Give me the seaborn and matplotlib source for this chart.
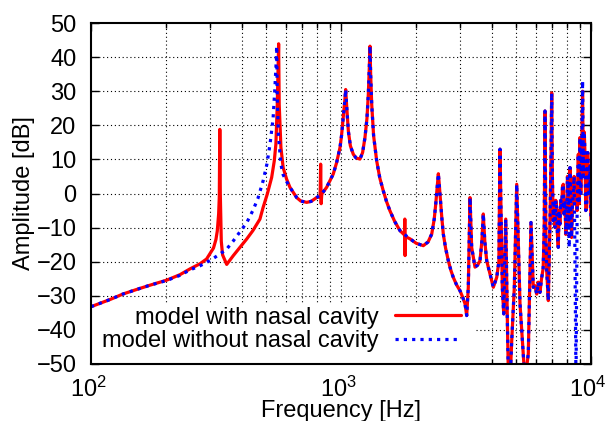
import numpy as np
import pandas as pd
import matplotlib
matplotlib.use("Agg")
import matplotlib.pyplot as plt
import matplotlib.transforms as mtransforms
import seaborn as sns
from matplotlib.patches import Rectangle
from matplotlib.ticker import LogLocator, NullFormatter

# --- data (frequency in Hz, amplitude in dB) ---
# below ~630 Hz the two models differ
low_freq_red = [100, 120, 134, 150, 172, 201, 227, 249, 273, 290, 309, 316, 320, 324, 326, 327.5, 329, 332,
                336, 349, 371, 394, 420, 444, 474, 488, 507, 528, 541, 549, 556, 563, 566, 575, 587, 606]
low_db_red = [-33.2, -31.0, -29.5, -28.3, -26.9, -25.4, -23.8, -22.1, -20.6, -19.2, -16.0, -13.5, -11.0, -6.0,
              -1.0, 18.8, 0.0, -14.0, -18.0, -20.8, -18.2, -15.8, -13.3, -10.9, -7.5, -4.1, -0.2, 4.7, 9.6,
              14.5, 26.1, 43.9, 26.1, 13.5, 7.6, 4.2]

low_freq_blue = [100, 120, 134, 150, 172, 201, 227, 249, 273, 290, 309, 330, 349, 370, 394, 420, 444, 465, 488,
                 505, 520, 535, 544, 550, 553, 556, 562, 575, 587, 606]
low_db_blue = [-33.2, -31.0, -29.5, -28.3, -26.9, -25.5, -24.0, -22.4, -21.2, -20.2, -19.0, -17.6, -16.3, -14.0,
               -11.3, -8.5, -5.0, -1.5, 3.7, 8.5, 14.4, 22.0, 31.0, 38.0, 43.2, 28.0, 17.0, 8.5, 5.5, 3.5]

# 625 Hz - 6.4 kHz: both models
mid_freq = [625, 665, 690, 729, 760, 799, 840, 876, 900, 931, 960, 991, 1005, 1021, 1035, 1044, 1055, 1070,
            1090, 1120, 1150, 1191, 1220, 1247, 1270, 1286, 1298, 1306, 1314, 1327, 1350, 1389, 1430, 1476,
            1520, 1570, 1640, 1722, 1888, 2000, 2134, 2230, 2306, 2360, 2393, 2430, 2451, 2470, 2489, 2530,
            2566, 2620, 2687, 2750, 2813, 2900, 2992, 3070, 3133, 3183, 3230, 3281, 3332, 3436, 3520, 3597,
            3660, 3708, 3760, 3826, 3945, 4067, 4196, 4280, 4325, 4418, 4476, 4560, 4628, 4671, 4740, 4819,
            4935, 5045, 5200, 5445, 5613, 5754, 5877, 5960, 6066, 6150, 6250, 6340, 6436]
mid_db = [1.8, -1.2, -2.2, -2.6, -2.3, -1.2, 0.0, 1.8, 3.5, 5.7, 9.0, 13.5, 17.0, 22.2, 27.0, 30.5, 25.0, 18.3,
          14.0, 11.5, 10.4, 10.1, 12.0, 16.4, 22.0, 29.0, 37.0, 43.2, 35.0, 26.1, 17.0, 9.6, 4.5, 0.8,
          -2.3, -5.1, -8.2, -10.9, -13.3, -14.6, -15.3, -14.2, -11.9, -7.5, -3.1, 2.5, 5.8, 3.0, -0.2, -7.0,
          -11.9, -16.0, -19.7, -22.5, -24.6, -26.8, -28.5, -30.5, -32.3, -35.8, -27.5, -1.2, -15.8, -21.6, -21.0, -19.7,
          -14.0, -6.0, -14.0, -19.7, -23.6, -27.5, -24.6, -20.0, 13.0, -27.5, -35.3, -7.5, -37.2, -53.0, -56.0, -43.1,
          -27.5, 2.7, -32.3, -55.0, -47.0, -8.5, -27.5, -27.0, -29.5, -26.0, -29.0, -25.0, -22.0]

# narrow features that only the nasal-cavity model has
spike_freq_red = [825, 829, 833, 837, 1796, 1800, 1804, 1808]
spike_db_red = [-1.0, 8.6, -3.0, -0.6, -12.2, -7.5, -18.2, -12.6]

# above 6.4 kHz
high_freq = [6500, 6546, 6600, 6650, 6749, 6800, 6855, 6910, 6963, 7010, 7066, 7120, 7178, 7230, 7290,
             7340, 7397, 7450, 7510, 7570, 7634, 7690, 7746, 7800, 7870, 7930, 7995, 8050, 8114, 8180,
             8241, 8300, 8360, 8430, 8497, 8560, 8620, 8710, 8800, 8897, 8960, 9036, 9100, 9180, 9255,
             9320, 9400, 9462, 9530, 9612, 9700, 9800, 9900, 10000]
high_db_red = [-10.0, 24.2, -12.0, -22.6, -31.4, -20.0, -8.0, 8.0, 29.5, 4.0, -8.0, -3.0, -9.9, -2.0, -4.1,
               -12.0, -15.8, -5.0, -9.0, -2.0, -4.1, 2.0, 2.7, -6.0, -2.1, -12.0, -8.0, 5.0, -0.1, -10.0,
               7.6, -5.0, -12.9, -3.0, -0.1, 5.0, -3.0, 2.0, -5.0, 11.5, -3.0, 16.4, 0.0, 12.0, 30.0,
               5.0, 18.0, 11.5, -5.0, -4.1, 12.0, 0.0, 8.0, -8.0]
high_db_blue = [-10.0, 24.2, -12.0, -22.6, -31.4, -20.0, -8.0, 8.0, 29.5, 4.0, -8.0, -3.0, -9.9, -2.0, -4.1,
                -12.0, -15.8, -5.0, -9.0, -2.0, -4.1, 2.0, 2.7, -6.0, -2.1, -12.0, -8.0, 5.0, -0.1, -15.8,
                7.6, -5.0, -12.9, -3.0, -0.1, 5.0, -15.8, -56.0, -5.0, 11.5, -3.0, 16.4, 0.0, 12.0, 33.0,
                5.0, 18.0, 11.5, -5.0, -4.1, 12.0, 0.0, 8.0, -8.0]

red = pd.DataFrame({
    "freq": low_freq_red + mid_freq + spike_freq_red + high_freq,
    "db": low_db_red + mid_db + spike_db_red + high_db_red,
})
blue = pd.DataFrame({
    "freq": low_freq_blue + mid_freq + high_freq,
    "db": low_db_blue + mid_db + high_db_blue,
})

sns.set_style("ticks")
plt.rcParams["font.family"] = ["Liberation Sans", "DejaVu Sans"]
plt.rcParams["mathtext.fontset"] = "custom"
plt.rcParams["mathtext.rm"] = "Liberation Sans"
for key in ["axes.edgecolor", "xtick.color", "ytick.color", "text.color", "axes.labelcolor"]:
    plt.rcParams[key] = "black"
fs = 17

fig, ax = plt.subplots(figsize=(6.06, 4.21), dpi=100)
fig.subplots_adjust(left=91 / 606, right=591 / 606, top=1 - 23 / 421, bottom=1 - 364 / 421)

# dotted grid, drawn by hand so the key can blank part of it
grid_x = [m * 10 ** e for e in (2, 3) for m in range(2, 10)] + [1000]
ax.vlines(grid_x, -50, 50, colors="black", linestyles=(0, (1, 2.5)), lw=0.8, zorder=0.5)
ax.hlines(list(range(-40, 50, 10)), 100, 10000, colors="black", linestyles=(0, (1, 2.5)), lw=0.8, zorder=0.5)
ax.add_patch(Rectangle((0, 0), 0.768, 0.179, transform=ax.transAxes,
                       facecolor="white", edgecolor="none", zorder=1))

sns.lineplot(data=red, x="freq", y="db", color="#ff0000", lw=2.3, estimator=None, sort=True,
             label="model with nasal cavity", ax=ax)
sns.lineplot(data=blue, x="freq", y="db", color="#0000ff", lw=2.3, estimator=None, sort=True,
             linestyle=(0, (1, 1.6)), label="model without nasal cavity", ax=ax)

ax.set_xscale("log")
ax.set_xlim(100, 10000)
ax.set_ylim(-50, 50)
ax.set_yticks(range(-50, 51, 10))
ax.xaxis.set_minor_locator(LogLocator(base=10, subs=np.arange(2, 10)))
ax.xaxis.set_minor_formatter(NullFormatter())
ax.tick_params(which="both", direction="in", top=True, right=True, width=1.0, labelsize=fs)
ax.tick_params(which="major", length=6)
ax.tick_params(which="minor", length=3.5)
ax.tick_params(axis="y", pad=10.5)
ax.tick_params(axis="x", pad=9)
shift = mtransforms.ScaledTranslation(-3 / 100, 0, fig.dpi_scale_trans)
for lab in ax.get_xticklabels():
    lab.set_transform(lab.get_transform() + shift)
for s in ax.spines.values():
    s.set_linewidth(1.5)

ax.set_xlabel("Frequency [Hz]", fontsize=fs, labelpad=-1)
ax.set_ylabel("Amplitude [dB]", fontsize=fs, labelpad=1)

leg = ax.legend(loc="lower right", bbox_to_anchor=(0.74, 0.035), frameon=False, fontsize=fs,
                markerfirst=False, handlelength=2.8, handletextpad=0.7, labelspacing=0.06,
                borderpad=0.0, borderaxespad=0.0)

fig.savefig("out.png", dpi=100)
